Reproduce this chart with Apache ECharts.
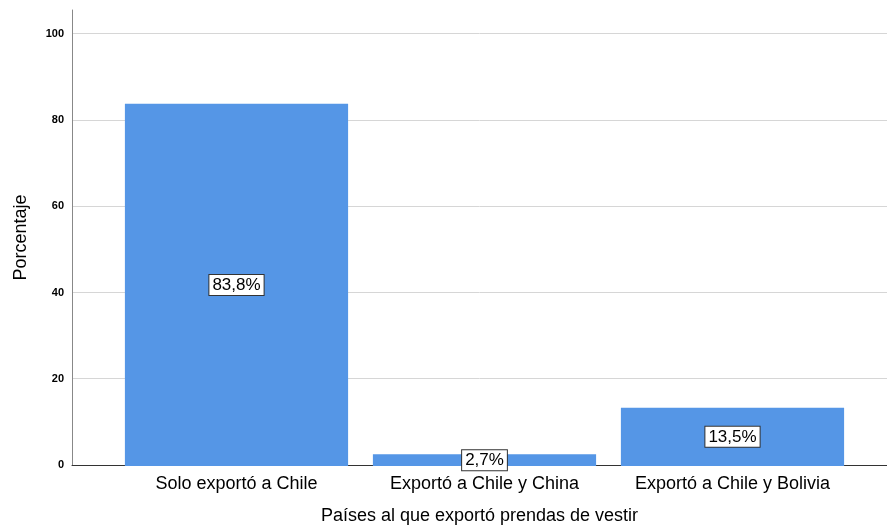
<!DOCTYPE html>
<html>
<head>
<meta charset="utf-8">
<script src="https://cdn.jsdelivr.net/npm/echarts@6/dist/echarts.min.js"></script>
<style>html,body{margin:0;padding:0;background:#fff}#c{width:887px;height:530px}</style>
</head>
<body>
<div id="c"></div>
<script>
const categories = ['Solo exportó a Chile', 'Exportó a Chile y China', 'Exportó a Chile y Bolivia'];
const percentages = [83.8, 2.7, 13.5];
const yTicks = [0, 20, 40, 60, 80, 100];

const FONT = '"Liberation Sans", Arial, sans-serif';
const chart = echarts.init(document.getElementById('c'), null, {renderer: 'canvas'});
const gridColors = yTicks.map(() => '#d6d6d6').concat(['rgba(0,0,0,0)']);
chart.setOption({
  animation: false,
  backgroundColor: '#fff',
  grid: [
    {left: 112.5, right: 30.5, top: 10, bottom: 64},
    {left: 72, right: 0, top: 10, bottom: 64}
  ],
  xAxis: [
    {
      gridIndex: 0, type: 'category', data: categories,
      axisLine: {show: false}, axisTick: {show: false},
      axisLabel: {color: '#000', fontSize: 18, fontFamily: FONT, margin: 9, interval: 0, hideOverlap: false}
    },
    {
      gridIndex: 1, type: 'value', min: 0, max: 1,
      axisLine: {show: true, lineStyle: {color: '#333', width: 1}},
      axisTick: {show: false}, axisLabel: {show: false}, splitLine: {show: false},
      name: 'Países al que exportó prendas de vestir', nameLocation: 'middle', nameGap: 42,
      nameTextStyle: {color: '#000', fontSize: 18, fontFamily: FONT}
    }
  ],
  yAxis: [
    {gridIndex: 0, type: 'value', min: 0, max: 105.5, show: false, splitLine: {show: false}},
    {
      gridIndex: 1, type: 'value', min: 0, max: 105.5, interval: 20,
      axisLine: {show: true, lineStyle: {color: '#888', width: 1}},
      axisTick: {show: false},
      axisLabel: {
        color: '#000', fontSize: 11, fontWeight: 'bold', fontFamily: FONT, margin: 8,
        formatter: v => (yTicks.indexOf(v) >= 0 ? String(v) : '')
      },
      splitLine: {show: true, lineStyle: {color: gridColors, width: 1}},
      name: 'Porcentaje', nameLocation: 'middle', nameGap: 42,
      nameTextStyle: {color: '#000', fontSize: 18, fontFamily: FONT}
    }
  ],
  series: [{
    type: 'bar', xAxisIndex: 0, yAxisIndex: 0,
    data: percentages,
    barCategoryGap: '10%',
    itemStyle: {color: '#5596e6'},
    label: {
      show: true, position: 'inside',
      formatter: p => p.value.toFixed(1).replace('.', ',') + '%',
      color: '#000', fontSize: 17, fontFamily: FONT,
      backgroundColor: '#fff', borderColor: '#333', borderWidth: 1,
      padding: [1, 3, 1, 3], lineHeight: 18
    }
  }]
});
</script>
</body>
</html>
